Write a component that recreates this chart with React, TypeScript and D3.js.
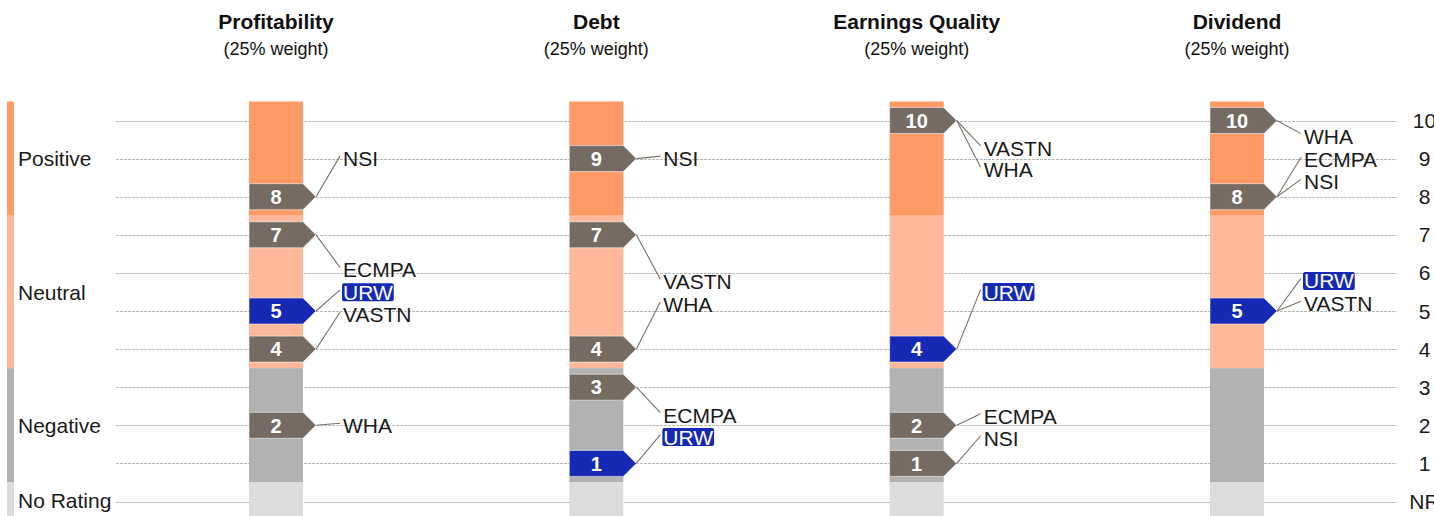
import React from "react";
import * as d3 from "d3";

// ---- data ----
const categories = ["Profitability", "Debt", "Earnings Quality", "Dividend"];
const weights = ["(25% weight)", "(25% weight)", "(25% weight)", "(25% weight)"];
const companies = ["NSI", "ECMPA", "URW", "VASTN", "WHA"];
const highlight = "URW";

// scores per category, in the order of `companies`
const profitabilityScores = [8, 7, 5, 4, 2];
const debtScores = [9, 3, 1, 7, 4];
const earningsQualityScores = [1, 2, 4, 10, 10];
const dividendScores = [8, 8, 5, 5, 10];

// label anchor levels (rating units), same order as `companies`
const profitabilityLabelPos = [9, 6.08, 5.49, 4.9, 1.99];
const debtLabelPos = [9, 2.27, 1.69, 5.77, 5.17];
const earningsQualityLabelPos = [1.66, 2.24, 5.5, 9.27, 8.71];
const dividendLabelPos = [8.39, 8.97, 5.79, 5.19, 9.59];

const bandNames = ["Positive", "Neutral", "Negative", "No Rating"];
const bandLo = [7.5, 3.5, 0.5, -0.5];
const bandHi = [10.5, 7.5, 3.5, 0.5];
const bandColors = ["#ff9966", "#ffb899", "#b2b2b2", "#dcdcdc"];

const ratingTicks = [10, 9, 8, 7, 6, 5, 4, 3, 2, 1, 0];
const ratingTickLabels = ["10", "9", "8", "7", "6", "5", "4", "3", "2", "1", "NR"];

const allScores = [profitabilityScores, debtScores, earningsQualityScores, dividendScores];
const allLabelPos = [profitabilityLabelPos, debtLabelPos, earningsQualityLabelPos, dividendLabelPos];

// ---- style ----
const W = 1434;
const H = 516;
const FONT = "'Liberation Sans', Arial, Helvetica, sans-serif";
const TAG_COLOR = "#766b62";
const BLUE = "#1529b5";
const TEXT = "#1a1a1a";
const BAR_W = 54;
const TAG_H = 26;
const ARROW = 13;

function measure(text: string, font: string): number {
  const c = document.createElement("canvas");
  const ctx = c.getContext("2d");
  if (!ctx) return text.length * 12;
  ctx.font = font;
  return ctx.measureText(text).width;
}

export default function App() {
  const y = d3.scaleLinear().domain([0, 10]).range([501.5, 120.5]);
  const x = d3.scalePoint<string>().domain(categories).range([276, 1237]);

  const gridX0 = 116;
  const gridX1 = 1397;

  return (
    <svg
      width={W}
      height={H}
      viewBox={`0 0 ${W} ${H}`}
      style={{ position: "absolute", left: 0, top: 0, fontFamily: FONT }}
    >
      <rect x={0} y={0} width={W} height={H} fill="#fff" />
      {/* gridlines */}
      {ratingTicks.map((t) => (
        <line
          key={"g" + t}
          x1={gridX0}
          x2={gridX1}
          y1={Math.round(y(t)) + 0.5}
          y2={Math.round(y(t)) + 0.5}
          stroke="#b8b8b8"
          strokeWidth={1}
          strokeDasharray="3,1"
        />
      ))}
      {/* right axis labels */}
      {ratingTicks.map((t, i) => (
        <text
          key={"r" + t}
          x={1424.5}
          y={y(t)}
          dy="0.36em"
          textAnchor="middle"
          fontSize={21}
          fill={TEXT}
        >
          {ratingTickLabels[i]}
        </text>
      ))}
      {/* left legend bands */}
      {bandNames.map((b, i) => (
        <g key={"lb" + b}>
          <rect
            x={7}
            y={y(bandHi[i])}
            width={7}
            height={y(bandLo[i]) - y(bandHi[i])}
            fill={bandColors[i]}
          />
          <text
            x={18}
            y={Math.min(y((bandLo[i] + bandHi[i]) / 2), 500)}
            dy="0.36em"
            fontSize={21}
            fill={TEXT}
          >
            {b}
          </text>
        </g>
      ))}
      {/* columns */}
      {categories.map((cat, ci) => {
        const cx = x(cat) as number;
        const left = cx - BAR_W / 2;
        const right = cx + BAR_W / 2;
        const scores = allScores[ci];
        const labelPos = allLabelPos[ci];
        const groups = d3.groups(
          companies.map((c, k) => ({ c, s: scores[k], lp: labelPos[k] })),
          (d) => d.s
        );
        const labelX = right + 40;
        const lineEndX = right + 37;
        const tipX = right + ARROW;
        return (
          <g key={"c" + cat}>
            <text
              x={cx}
              y={29}
              textAnchor="middle"
              fontSize={21}
              fontWeight="bold"
              fill="#111"
            >
              {cat}
            </text>
            <text x={cx} y={55} textAnchor="middle" fontSize={18} fill="#111">
              {weights[ci]}
            </text>
            {bandNames.map((b, i) => (
              <rect
                key={"cb" + b}
                x={left}
                y={y(bandHi[i])}
                width={BAR_W}
                height={y(bandLo[i]) - y(bandHi[i])}
                fill={bandColors[i]}
              />
            ))}
            {groups.map(([s, members]) => {
              const cy = y(s);
              const isHi = members.some((m) => m.c === highlight);
              const top = cy - TAG_H / 2;
              const bot = cy + TAG_H / 2;
              const path = `M${left},${top}H${right}L${tipX},${cy}L${right},${bot}H${left}Z`;
              return (
                <g key={"t" + s}>
                  {members.map((m) => (
                    <line
                      key={"l" + m.c}
                      x1={tipX}
                      y1={cy}
                      x2={lineEndX}
                      y2={y(m.lp) - 2.5}
                      stroke="#7d7168"
                      strokeWidth={1.1}
                    />
                  ))}
                  <path
                    d={path}
                    fill={isHi ? BLUE : TAG_COLOR}
                    stroke="rgba(255,255,255,0.55)"
                    strokeWidth={1}
                  />
                  <text
                    x={cx}
                    y={cy}
                    dy="0.36em"
                    textAnchor="middle"
                    fontSize={20}
                    fontWeight="bold"
                    fill="#fff"
                  >
                    {s}
                  </text>
                </g>
              );
            })}
            {companies.map((c, k) => {
              const ly = y(labelPos[k]);
              const isHi = c === highlight;
              const tw = measure(c, `21px ${FONT}`);
              return (
                <g key={"lab" + c}>
                  {isHi && (
                    <rect
                      x={labelX - 1}
                      y={ly - 9}
                      width={tw + 2}
                      height={18}
                      rx={2}
                      fill={BLUE}
                    />
                  )}
                  <text
                    x={labelX}
                    y={ly}
                    dy="0.36em"
                    fontSize={21}
                    fill={isHi ? "#fff" : TEXT}
                  >
                    {c}
                  </text>
                </g>
              );
            })}
          </g>
        );
      })}
    </svg>
  );
}
